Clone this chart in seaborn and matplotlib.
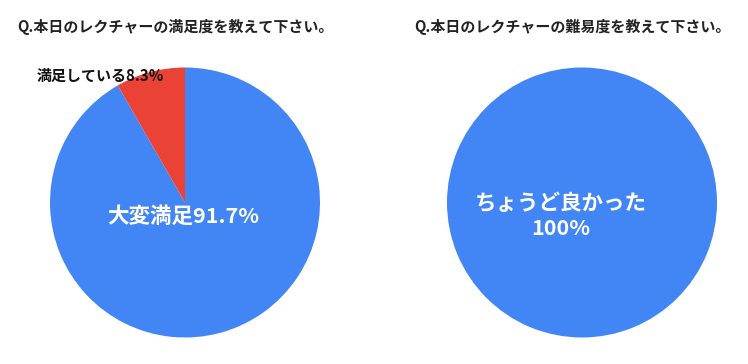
import matplotlib
matplotlib.use("Agg")
import matplotlib.pyplot as plt
import seaborn as sns

sns.set_theme(style="white")
plt.rcParams['font.family'] = ['Noto Sans CJK JP', 'DejaVu Sans']

# Data
titles = ["Q.本日のレクチャーの満足度を教えて下さい。", "Q.本日のレクチャーの難易度を教えて下さい。"]
sat_labels = ["大変満足", "満足している"]
sat_values = [91.7, 8.3]
diff_labels = ["ちょうど良かった"]
diff_values = [100.0]

colors = ["#4285F4", "#EA4335"]

W, H = 748, 364
fig = plt.figure(figsize=(W / 100, H / 100), dpi=100)
fig.patch.set_facecolor("white")

R = 135
def make_ax(cx, cy):
    return fig.add_axes([(cx - R) / W, (H - cy - R) / H, 2 * R / W, 2 * R / H])

ax1 = make_ax(185, 202.5)
ax2 = make_ax(582, 202.5)

ax1.pie(sat_values, colors=colors[:len(sat_values)], startangle=90, counterclock=False,
        radius=1, wedgeprops=dict(linewidth=0))
ax1.text(-0.01, -0.10, f"{sat_labels[0]}{sat_values[0]}%", color="white", fontsize=15.5,
         fontweight="bold", ha="center", va="center")
ax1.text(-0.16, 0.937, f"{sat_labels[1]}{sat_values[1]}%", color="#111111", fontsize=10.8,
         fontweight="bold", ha="right", va="center")

ax2.pie(diff_values, colors=colors[:1], startangle=90, counterclock=False,
        radius=1, wedgeprops=dict(linewidth=0))
ax2.text(-0.156, -0.10, f"{diff_labels[0]}\n{diff_values[0]:.0f}%", color="white", fontsize=15.5,
         fontweight="bold", ha="center", va="center", linespacing=1.2)

for ax in (ax1, ax2):
    ax.set_xlim(-1, 1)
    ax.set_ylim(-1, 1)
    ax.set_aspect("equal")
    ax.axis("off")

fig.text(17 / W, 1 - 27 / H, titles[0], fontsize=10.8, fontweight="bold", color="#222222",
         ha="left", va="center")
fig.text(414 / W, 1 - 27 / H, titles[1], fontsize=10.8, fontweight="bold", color="#222222",
         ha="left", va="center")

fig.savefig("out.png", dpi=100, facecolor="white")
